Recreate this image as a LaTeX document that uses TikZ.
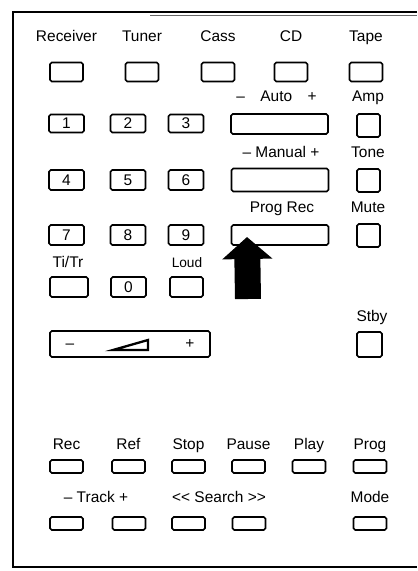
\documentclass[tikz,border=0pt]{standalone}
\usepackage{fontspec}
\setmainfont{Liberation Sans}
\usepackage{tikz}
\usetikzlibrary{arrows.meta,positioning,calc}

\begin{document}
\begin{tikzpicture}[x=0.02cm,y=-0.02cm,font=\fontsize{8.8}{10}\selectfont,
  key/.style={draw,line width=0.9pt,rounded corners=1pt,inner sep=0pt,minimum width=0.66cm,minimum height=0.38cm},
  num/.style={key,minimum width=0.7cm,minimum height=0.36cm},
  wide/.style={key,minimum width=1.94cm,minimum height=0.4cm},
  sq/.style={key,minimum width=0.46cm,minimum height=0.46cm},
  flat/.style={key,minimum width=0.66cm,minimum height=0.26cm},
  lab/.style={inner sep=0pt,anchor=base}]
\useasboundingbox (0,0) rectangle (417,571);
% ---- casing ----
\draw[line width=1.2pt] (417,12) -- (13,12) -- (13,567) -- (417,567);
\draw[line width=0.4pt,black!60] (150,15) -- (417,15);
% ---- source selectors ----
\foreach \x/\nm/\lab in {66.5/rcv/Receiver,142/tun/Tuner,218/cass/Cass,291/cd/CD,366/tape/Tape} {
  \node[lab] (\nm-l) at (\x,42) {\lab};
  \node[key] (\nm) at (\x,72) {};
}
% ---- number pad ----
\foreach \x/\a/\b/\c/\i in {66.5/1/4/7/a,128/2/5/8/b,186/3/6/9/c} {
  \node[num] (n\a) at (\x,123.5) {\a};
  \node[num,minimum height=0.4cm] (n\b) at (\x,180) {\b};
  \node[num,minimum height=0.4cm] (n\c) at (\x,235) {\c};
}
\node[key,minimum width=0.76cm,minimum height=0.4cm] (titr) at (69,287) {};
\node[num,minimum height=0.4cm] (n0) at (128.5,287) {0};
\node[key,minimum width=0.66cm,minimum height=0.4cm] (loud) at (186.5,287) {};
\node[lab] (titr-l) at (68,267) {Ti/Tr};
\node[lab,font=\fontsize{7.8}{9}\selectfont] (loud-l) at (187,267) {Loud};
% ---- tuning and recording bars ----
\node[lab] (auto-l) at (276.5,102) {\textendash\quad Auto\quad +};
\node[wide] (auto) at (279.5,124) {};
\node[lab] (man-l) at (281,157) {\textendash{} Manual +};
\node[wide,minimum height=0.46cm] (man) at (280,180) {};
\node[lab] (pr-l) at (282,212) {Prog Rec};
\node[wide] (pr) at (280,235) {};
% ---- right column ----
\foreach \y/\nm/\lab in {98/amp/Amp,153/tone/Tone,208/mute/Mute} {
  \node[lab] (\nm-l) at (368,\y+4) {\lab};
  \node[sq] (\nm) at (368.5,\y+27.5) {};
}
\node[lab] (stby-l) at (372,321) {Stby};
\node[sq,minimum width=0.5cm,minimum height=0.5cm] (stby) at (369.5,344.5) {};
% ---- volume ----
\node[key,minimum width=3.2cm,minimum height=0.52cm] (vol) at (130,344) {};
\node[lab] (vol-m) at (70,348) {\textendash};
\node[lab] (vol-p) at (190,348) {+};
\draw[line width=1.3pt,line join=miter] (113,350) -- (148,350) -- (148,340) -- cycle;
% ---- pointer ----
\coordinate (foot) at (248,299);
\coordinate (tip) at (247,237);
\draw[line width=0.52cm,-{Triangle[length=0.44cm,width=0.98cm]}] (foot) -- (tip);
% ---- deck transport ----
\foreach \x/\nm/\lab in {66.5/rec/Rec,128.5/ref/Ref,188.5/stop/Stop,248.5/pause/Pause,309/play/Play,370/prog/Prog} {
  \node[lab] (\nm-l) at (\x,449.5) {\lab};
  \node[flat] (\nm) at (\x,466.5) {};
}
\node[lab] (trk-l) at (96,502.5) {\textendash{} Track +};
\node[lab] (srch-l) at (219,502.5) {<\kern0pt< Search >\kern0pt>};
\node[lab] (mode-l) at (370,502.5) {Mode};
\foreach \x/\nm in {66.5/trm,129/trp,188.5/srb,249/srf,370/mode}
  \node[flat] (\nm) at (\x,523.5) {};
\end{tikzpicture}
\end{document}
